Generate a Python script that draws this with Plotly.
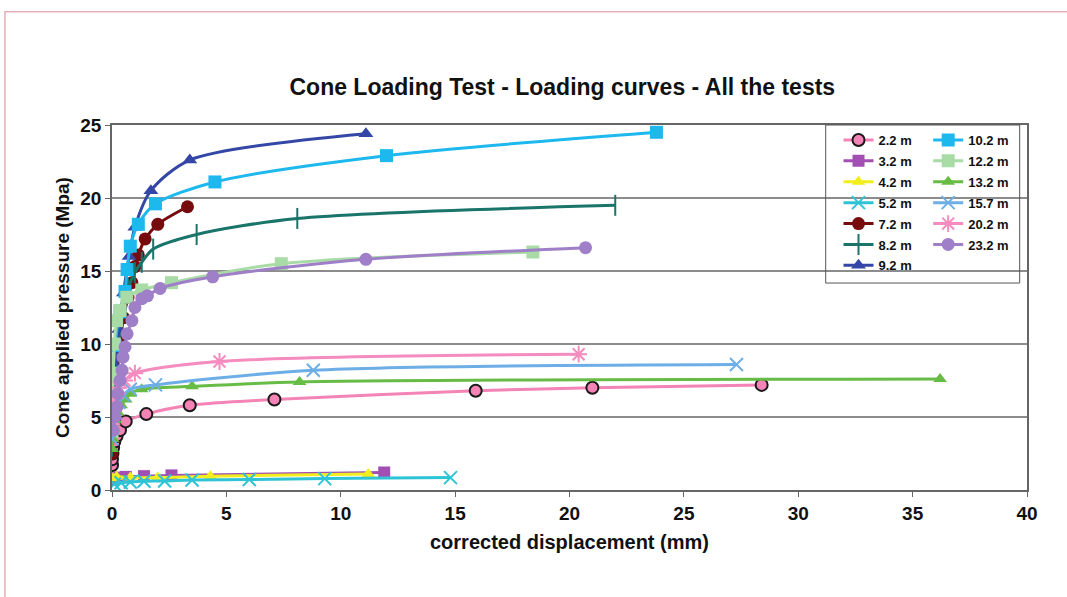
import plotly.graph_objects as go

# Loading curves: corrected displacement (mm) vs cone applied pressure (MPa), one series per test depth
depths = ["2.2 m", "3.2 m", "4.2 m", "5.2 m", "7.2 m", "8.2 m", "9.2 m",
          "10.2 m", "12.2 m", "13.2 m", "15.7 m", "20.2 m", "23.2 m"]

disp_2_2 = [0.0, 0.0, 0.02, 0.05, 0.1, 0.2, 0.35, 0.6, 1.5, 3.4, 7.1, 15.9, 21.0, 28.4]
pres_2_2 = [1.7, 2.1, 2.5, 2.9, 3.3, 3.7, 4.1, 4.7, 5.2, 5.8, 6.2, 6.8, 7.0, 7.2]

disp_3_2 = [0.0, 0.1, 0.3, 0.6, 1.4, 2.6, 11.9]
pres_3_2 = [0.7, 0.8, 0.85, 0.9, 0.95, 1.0, 1.2]

disp_4_2 = [0.05, 0.2, 0.8, 2.0, 4.3, 11.2]
pres_4_2 = [0.8, 0.9, 0.85, 0.85, 0.95, 1.1]

disp_5_2 = [0.1, 0.4, 0.8, 1.4, 2.3, 3.5, 6.0, 9.3, 14.8]
pres_5_2 = [0.4, 0.5, 0.55, 0.6, 0.62, 0.68, 0.72, 0.78, 0.85]

disp_7_2 = [0.0, 0.1, 0.2, 0.35, 0.5, 0.7, 0.87, 1.0, 1.15, 1.45, 2.0, 3.3]
pres_7_2 = [2.5, 5.0, 7.5, 10.0, 11.8, 13.2, 14.2, 15.3, 16.1, 17.2, 18.2, 19.4]

disp_8_2 = [0.0, 0.1, 0.25, 0.45, 0.7, 1.0, 1.3, 1.8, 3.7, 8.1, 22.0]
pres_8_2 = [3.0, 6.5, 9.5, 12.0, 13.8, 14.9, 15.6, 16.5, 17.5, 18.6, 19.5]

disp_9_2 = [0.0, 0.05, 0.15, 0.3, 0.5, 0.75, 1.0, 1.7, 3.4, 11.1]
pres_9_2 = [4.0, 6.0, 8.5, 11.0, 13.5, 16.0, 18.0, 20.5, 22.6, 24.4]

disp_10_2 = [0.0, 0.04, 0.13, 0.35, 0.57, 0.66, 0.8, 1.15, 1.9, 4.5, 12.0, 23.8]
pres_10_2 = [6.0, 7.7, 9.9, 12.2, 13.6, 15.1, 16.7, 18.2, 19.6, 21.1, 22.9, 24.5]

disp_12_2 = [0.0, 0.02, 0.05, 0.1, 0.2, 0.35, 0.65, 1.3, 2.6, 7.4, 18.4]
pres_12_2 = [4.0, 6.0, 8.0, 10.0, 11.6, 12.3, 13.2, 13.7, 14.2, 15.5, 16.3]

disp_13_2 = [0.0, 0.03, 0.08, 0.15, 0.25, 0.4, 0.6, 0.8, 1.3, 3.5, 8.2, 36.2]
pres_13_2 = [2.8, 3.5, 4.2, 4.8, 5.3, 5.8, 6.2, 6.6, 6.9, 7.1, 7.4, 7.6]

disp_15_7 = [0.0, 0.05, 0.15, 0.3, 0.5, 0.8, 1.9, 8.8, 27.3]
pres_15_7 = [3.5, 4.5, 5.3, 6.0, 6.5, 6.9, 7.2, 8.2, 8.6]

disp_20_2 = [0.0, 0.05, 0.15, 0.3, 0.55, 1.0, 4.7, 20.4]
pres_20_2 = [4.5, 5.5, 6.3, 7.0, 7.5, 8.0, 8.8, 9.3]

disp_23_2 = [0.04, 0.13, 0.22, 0.26, 0.35, 0.44, 0.48, 0.57, 0.66, 0.87, 1.0,
             1.3, 1.55, 2.1, 4.4, 11.1, 20.7]
pres_23_2 = [4.1, 5.0, 5.7, 6.6, 7.5, 8.2, 9.1, 9.8, 10.7, 11.6, 12.5,
             13.1, 13.3, 13.8, 14.6, 15.8, 16.6]

x_ticks = [0, 5, 10, 15, 20, 25, 30, 35, 40]
y_ticks = [0, 5, 10, 15, 20, 25]

series_x = [disp_2_2, disp_3_2, disp_4_2, disp_5_2, disp_7_2, disp_8_2, disp_9_2,
            disp_10_2, disp_12_2, disp_13_2, disp_15_7, disp_20_2, disp_23_2]
series_y = [pres_2_2, pres_3_2, pres_4_2, pres_5_2, pres_7_2, pres_8_2, pres_9_2,
            pres_10_2, pres_12_2, pres_13_2, pres_15_7, pres_20_2, pres_23_2]

# colour, marker symbol, marker size, open symbol?
styles = [
    ("#F483B6", "circle", 12, False),
    ("#A24FB4", "square", 12, False),
    ("#F2EE1E", "triangle-up", 12, False),
    ("#2EC4D6", "x-thin-open", 13, True),
    ("#760A0C", "circle", 13, False),
    ("#19746A", "line-ns-open", 15, True),
    ("#3547A6", "triangle-up", 13, False),
    ("#1DB8EE", "square", 13, False),
    ("#A9DBA6", "square", 13, False),
    ("#67BC45", "triangle-up", 12, False),
    ("#6DAEE6", "x-thin-open", 13, True),
    ("#F58CC0", "asterisk-open", 14, True),
    ("#9E7FC8", "circle", 13, False),
]

FONT = "Liberation Sans, Arial, sans-serif"
INK = "#111111"

fig = go.Figure()
for i, name in enumerate(depths):
    color, symbol, size, is_open = styles[i]
    if is_open:
        marker = dict(symbol=symbol, size=size, color=color, line=dict(color=color, width=2))
    elif i == 0:
        marker = dict(symbol=symbol, size=size, color=color, line=dict(color="#1a1a1a", width=2))
    else:
        marker = dict(symbol=symbol, size=size, color=color, line=dict(width=0))
    fig.add_trace(go.Scatter(
        x=series_x[i], y=series_y[i], name=name,
        mode="lines+markers",
        line=dict(color=color, width=3, shape="spline", smoothing=0.8),
        marker=marker,
        legend="legend" if i < 7 else "legend2",
        legendgroup=name,
    ))

legend_common = dict(
    font=dict(family=FONT, size=13, color=INK, weight="bold"),
    bgcolor="rgba(0,0,0,0)", borderwidth=0,
    tracegroupgap=1, itemwidth=30,
    xanchor="left", yanchor="top",
)

tick_font = dict(family=FONT, size=19, color=INK, weight="bold")

fig.update_layout(
    width=1067, height=597,
    margin=dict(l=112, r=40, t=125, b=107),
    paper_bgcolor="white", plot_bgcolor="white",
    title=dict(text="Cone Loading Test - Loading curves - All the tests",
               x=0.527, xanchor="center", y=0.854, yanchor="middle",
               font=dict(family=FONT, size=23, color=INK, weight="bold")),
    showlegend=True,
    legend=dict(x=0.794, y=1.0, **legend_common),
    legend2=dict(x=0.892, y=1.0, **legend_common),
    xaxis=dict(
        range=[0, 40], tickvals=x_ticks, ticks="outside", ticklen=5, tickwidth=1,
        tickcolor="#666666", showgrid=False, zeroline=False,
        showline=True, linecolor="#666666", linewidth=1.5, mirror=True,
        tickfont=tick_font,
        title=dict(text="corrected displacement (mm)", standoff=12,
                   font=dict(family=FONT, size=20, color=INK, weight="bold")),
    ),
    yaxis=dict(
        range=[0, 25], tickvals=y_ticks, ticks="outside", ticklen=5, tickwidth=1,
        tickcolor="#666666", showgrid=True, gridcolor="#8c8c8c", gridwidth=1.5,
        zeroline=False, showline=True, linecolor="#666666", linewidth=1.5, mirror=True,
        tickfont=tick_font,
        title=dict(text="Cone applied pressure (Mpa)", standoff=6,
                   font=dict(family=FONT, size=19, color=INK, weight="bold")),
    ),
    shapes=[
        # legend frame
        dict(type="rect", xref="paper", yref="paper", x0=0.780, x1=0.992, y0=0.567, y1=1.0,
             line=dict(color="#555555", width=1), fillcolor="rgba(0,0,0,0)", layer="above"),
        # outer chart border
        dict(type="rect", xref="paper", yref="paper", x0=-0.117, x1=1.2, y0=-0.5, y1=1.31,
             line=dict(color="#E5AFB8", width=1.5), fillcolor="rgba(0,0,0,0)", layer="below"),
    ],
)

fig.write_html("out.html")
